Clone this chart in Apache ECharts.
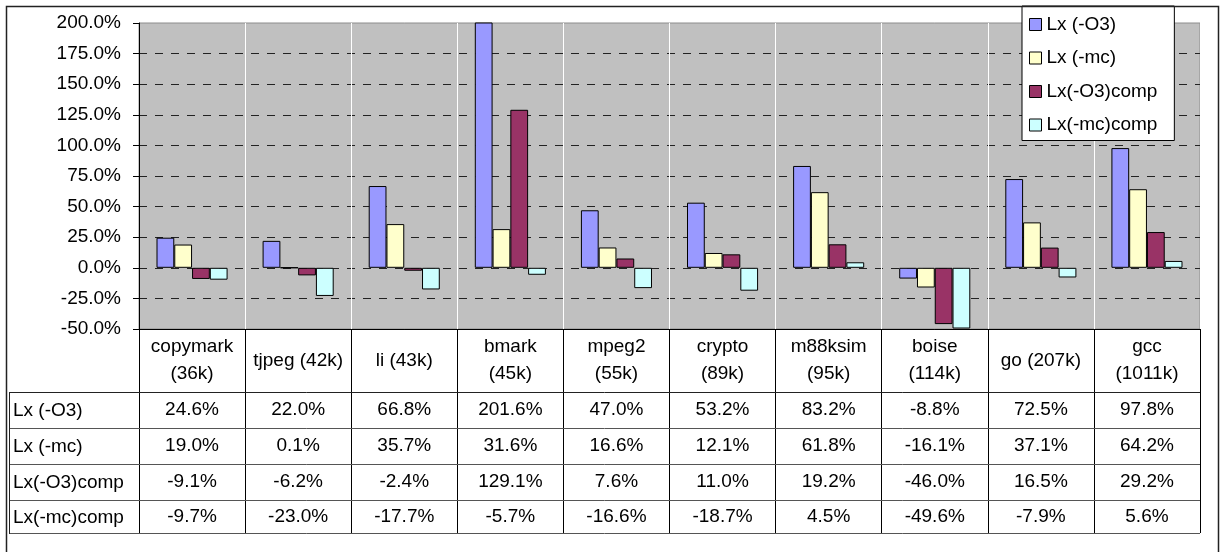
<!DOCTYPE html>
<html>
<head>
<meta charset="utf-8">
<script src="https://cdn.jsdelivr.net/npm/echarts@6/dist/echarts.min.js"></script>
<style>
  html, body { margin: 0; padding: 0; background: #fff; }
  #chart { width: 1224px; height: 552px; }
</style>
</head>
<body>
<div id="chart"></div>
<script>
  // benchmarks (category axis)
  var categories = ['copymark\n(36k)', 'tjpeg (42k)', 'li (43k)', 'bmark\n(45k)', 'mpeg2\n(55k)',
    'crypto\n(89k)', 'm88ksim\n(95k)', 'boise\n(114k)', 'go (207k)', 'gcc\n(1011k)']
  var seriesNames = ['Lx (-O3)', 'Lx (-mc)', 'Lx(-O3)comp', 'Lx(-mc)comp']
  // values in percent
  var lxO3 = [24.6, 22.0, 66.8, 201.6, 47.0, 53.2, 83.2, -8.8, 72.5, 97.8]
  var lxMc = [19.0, 0.1, 35.7, 31.6, 16.6, 12.1, 61.8, -16.1, 37.1, 64.2]
  var lxO3Comp = [-9.1, -6.2, -2.4, 129.1, 7.6, 11.0, 19.2, -46.0, 16.5, 29.2]
  var lxMcComp = [-9.7, -23.0, -17.7, -5.7, -16.6, -18.7, 4.5, -49.6, -7.9, 5.6]
  var yMin = -50
  var yMax = 200
  var yStep = 25

  var allValues = [lxO3, lxMc, lxO3Comp, lxMcComp]
  var colors = ['#9999FF', '#FFFFCC', '#993366', '#CCFFFF']
  var font = '"Liberation Sans", Arial, sans-serif'
  var fontSize = 19

  // layout of the plot area and data table
  var plotLeft = 139, plotRight = 1200, plotTop = 23, plotBottom = 329
  var tableLeft = 9
  var rowLines = [392, 428, 464, 500, 533]

  function pct (v) { return v.toFixed(1) + '%' }

  var chart = echarts.init(document.getElementById('chart'))

  var xAxes = [{
    type: 'category',
    data: categories,
    position: 'bottom',
    axisLine: { onZero: false, lineStyle: { color: '#000', width: 1 } },
    axisTick: { show: true, interval: 0, length: rowLines[rowLines.length - 1] - plotBottom, lineStyle: { color: '#000' } },
    splitLine: { show: true, interval: 0, lineStyle: { color: '#fff', width: 1 } },
    axisLabel: {
      interval: 0, color: '#000', fontFamily: font, fontSize: fontSize, lineHeight: 27,
      verticalAlign: 'middle', margin: (rowLines[0] - plotBottom) / 2
    }
  }]
  // one label-only axis per table row
  allValues.forEach(function (vals, i) {
    xAxes.push({
      type: 'category',
      data: categories,
      position: 'bottom',
      axisLine: { show: false, onZero: false },
      axisTick: { show: false },
      splitLine: { show: false },
      axisLabel: {
        interval: 0, color: '#000', fontFamily: font, fontSize: fontSize,
        verticalAlign: 'middle',
        margin: (rowLines[i] + rowLines[i + 1]) / 2 - plotBottom,
        formatter: function (v, idx) { return pct(vals[idx]) }
      }
    })
  })

  var graphics = []
  rowLines.forEach(function (y, i) {
    graphics.push({
      type: 'line', silent: true, z: 10,
      shape: { x1: tableLeft, y1: y + 0.5, x2: plotRight, y2: y + 0.5 },
      style: { stroke: i === 0 ? '#222' : '#555', lineWidth: 1 }
    })
  })
  graphics.push({
    type: 'line', silent: true, z: 10,
    shape: { x1: tableLeft + 0.5, y1: rowLines[0], x2: tableLeft + 0.5, y2: rowLines[rowLines.length - 1] + 1 },
    style: { stroke: '#222', lineWidth: 1 }
  })
  seriesNames.forEach(function (name, i) {
    graphics.push({
      type: 'text', silent: true, z: 10,
      x: tableLeft + 4, y: (rowLines[i] + rowLines[i + 1]) / 2 + 1,
      style: { text: name, fill: '#000', font: fontSize + 'px ' + font, verticalAlign: 'middle', align: 'left' }
    })
  })
  // outer chart border
  graphics.push({
    type: 'rect', silent: true, z: 10,
    shape: { x: 6.5, y: 6.5, width: 1212, height: 600 },
    style: { fill: null, stroke: '#222', lineWidth: 1.5 }
  })

  chart.setOption({
    animation: false,
    backgroundColor: '#fff',
    grid: {
      left: plotLeft, top: plotTop, right: 1224 - plotRight, bottom: 552 - plotBottom,
      show: true, backgroundColor: '#C0C0C0', borderColor: '#8c8c8c', borderWidth: 1,
      containLabel: false
    },
    legend: {
      orient: 'vertical', left: 1022, top: 6,
      backgroundColor: '#fff', borderColor: '#000', borderWidth: 1,
      padding: [9, 17, 6, 7],
      itemWidth: 12, itemHeight: 12, itemGap: 14.5,
      icon: 'rect',
      itemStyle: { borderColor: '#000', borderWidth: 1 },
      textStyle: { color: '#000', fontFamily: font, fontSize: fontSize },
      data: seriesNames
    },
    xAxis: xAxes,
    yAxis: {
      type: 'value',
      min: yMin, max: yMax, interval: yStep,
      axisLine: { show: true, lineStyle: { color: '#000' } },
      axisTick: { show: true, length: 6, lineStyle: { color: '#000' } },
      axisLabel: {
        color: '#000', fontFamily: font, fontSize: fontSize, margin: 18,
        formatter: function (v) { return pct(v) }
      },
      splitLine: {
        show: true, showMaxLine: false, showMinLine: false,
        lineStyle: { color: '#222', type: [8, 8], width: 1 }
      }
    },
    series: seriesNames.map(function (name, i) {
      return {
        name: name,
        type: 'bar',
        data: allValues[i],
        barGap: '0%',
        barCategoryGap: '33%',
        itemStyle: { color: colors[i], borderColor: '#000', borderWidth: 1 }
      }
    }),
    graphic: graphics
  })
</script>
</body>
</html>
